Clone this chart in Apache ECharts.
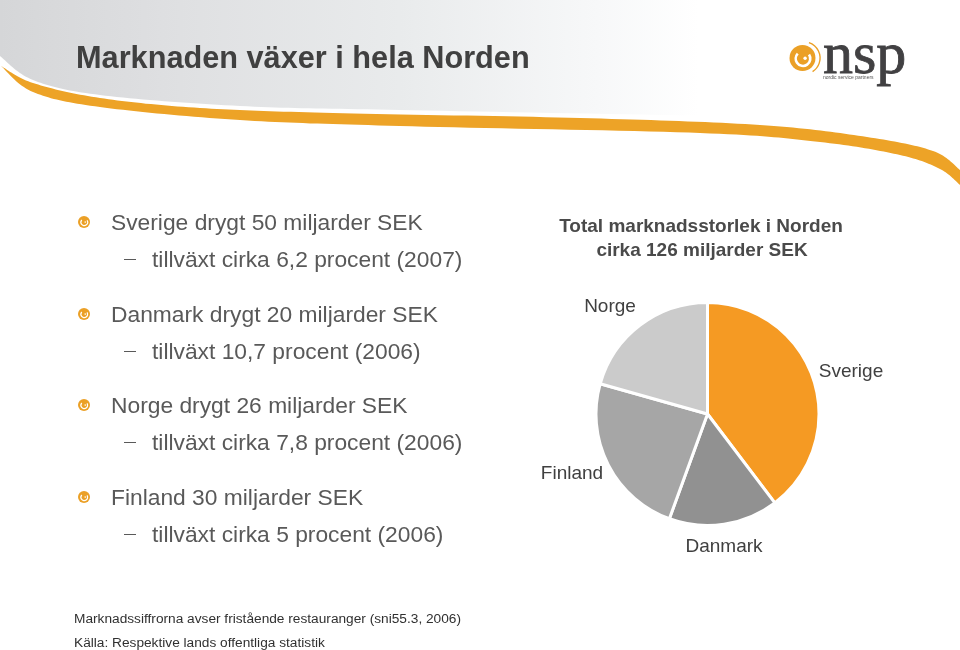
<!DOCTYPE html>
<html><head><meta charset="utf-8">
<style>html,body{margin:0;padding:0;background:#fff}#c{width:960px;height:650px}</style>
<script src="https://cdn.jsdelivr.net/npm/echarts@6/dist/echarts.min.js"></script>
</head><body><div id="c"></div>
<script>
const categories = ['Sverige','Danmark','Finland','Norge'];
const values = [50,20,30,26];
const colors = ['#F59A23','#919191','#A6A6A6','#CBCBCB'];
const labelAnchors = [[851,372],[724,547],[572,474],[610,307]];
const titleText = 'Marknaden växer i hela Norden';
const chartHeading = ['Total marknadsstorlek i Norden','cirka 126 miljarder SEK'];
const headLines = [['Sverige drygt 50 miljarder SEK',222],['Danmark drygt 20 miljarder SEK',314],['Norge drygt 26 miljarder SEK',405],['Finland 30 miljarder SEK',497]];
const subLines = [['tillväxt cirka 6,2 procent (2007)',259],['tillväxt 10,7 procent (2006)',351],['tillväxt cirka 7,8 procent (2006)',442],['tillväxt cirka 5 procent (2006)',534]];
const footLines = [['Marknadssiffrorna avser fristående restauranger (sni55.3, 2006)',618],['Källa: Respektive lands offentliga statistik',642]];

const FONT='"Liberation Sans",Arial,sans-serif';
const txt=(t,x,y,size,color,extra)=>({type:'text',z:5,style:Object.assign({text:t,x:x,y:y,font:`${size}px ${FONT}`,fill:color,textAlign:'left',textVerticalAlign:'middle'},extra||{})});
// smooth decorative curve (Catmull-Rom) through sampled outline points
const curve=(p)=>{
  const out=[];
  for(let i=0;i<p.length-1;i++){
    const a=p[Math.max(i-1,0)],b=p[i],c=p[i+1],d=p[Math.min(i+2,p.length-1)];
    for(let k=0;k<20;k++){const t=k/20,t2=t*t,t3=t2*t;
      out.push([0,1].map(j=>0.5*(2*b[j]+(c[j]-a[j])*t+(2*a[j]-5*b[j]+4*c[j]-d[j])*t2+(3*b[j]-a[j]-3*c[j]+d[j])*t3)));}
  }
  out.push(p[p.length-1]);
  return out;
};
const bandTop=[[1,66],[33,83],[100,98],[200,108],[333,113],[580,118],[760,125],[867,137],[933,151],[960,170]];
const bandBottom=[[960,185],[940,169],[900,155],[820,142],[700,133],[400,126],[240,120],[100,107],[33,92],[1,66]];
const greyEdge=[[720,116],[400,110],[240,106],[100,95],[33,80],[0,56]];
const g=[];
g.push({type:'polygon',z:1,shape:{points:[[0,0],[720,0]].concat(curve(greyEdge))},
  style:{fill:{type:'linear',x:0,y:0,x2:1,y2:0,colorStops:[{offset:0,color:'#d5d6d8'},{offset:0.25,color:'#dfe0e2'},{offset:0.555,color:'#e9ebec'},{offset:0.83,color:'#f7f8f9'},{offset:0.97,color:'#ffffff'},{offset:1,color:'#ffffff'}]}}});
g.push({type:'polygon',z:2,shape:{points:curve(bandTop).concat(curve(bandBottom))},style:{fill:'#EDA327'}});
const swirl=(x,y,r,outer)=>{
  g.push({type:'circle',z:4,shape:{cx:x,cy:y,r:r},style:{fill:'#EBA026'}});
  g.push({type:'arc',z:4,shape:{cx:x+r*0.04,cy:y+r*0.05,r:r*0.56,startAngle:-0.6,endAngle:3.9,clockwise:true},style:{stroke:'#ffffff',lineWidth:r*0.2,fill:null}});
  g.push({type:'circle',z:4,shape:{cx:x+r*0.2,cy:y+r*0.02,r:r*0.13},style:{fill:'#ffffff'}});
  if(outer){
    g.push({type:'arc',z:4,shape:{cx:x+r*0.1,cy:y,r:r*1.25,startAngle:-1.25,endAngle:1.0},style:{stroke:'#EBA026',lineWidth:1.4,fill:null}});
  }
};
swirl(802.5,58,13,true);
g.push(txt('nsp',823,57,60,'#414042',{font:`60px "Liberation Serif",serif`,stroke:'#414042',lineWidth:0.8}));
g.push(txt('nordic service partners',823,78,5,'#555555'));
g.push(txt(titleText,76,60,30.7,'#404040',{font:`bold 30.7px ${FONT}`}));
headLines.forEach(([t,y])=>{swirl(84,y,6,false);g.push(txt(t,111,y+2,22.8,'#595959'));});
subLines.forEach(([t,y])=>{
  g.push({type:'rect',z:4,shape:{x:124,y:y,width:12,height:1},style:{fill:'#595959'}});
  g.push(txt(t,152,y+2,22.8,'#595959'));
});
footLines.forEach(([t,y])=>g.push(txt(t,74,y+1,13.7,'#303030')));
chartHeading.forEach((t,i)=>g.push(txt(t,i?702:701,227+i*24,19,'#4a4a4a',{font:`bold 19px ${FONT}`,textAlign:'center'})));

const chart=echarts.init(document.getElementById('c'),null,{renderer:'canvas'});
chart.setOption({
  animation:false,
  backgroundColor:'#ffffff',
  color:colors,
  graphic:{elements:g},
  series:[{
    type:'pie',center:[707.5,414],radius:[0,111.5],startAngle:90,clockwise:true,
    data:categories.map((n,i)=>({name:n,value:values[i]})),
    itemStyle:{borderColor:'#ffffff',borderWidth:3},
    label:{show:true,position:'outside',formatter:'{b}',fontFamily:FONT,fontSize:19,color:'#404040',align:'center',verticalAlign:'middle'},
    labelLine:{show:false},
    labelLayout:p=>({x:labelAnchors[p.dataIndex][0],y:labelAnchors[p.dataIndex][1],align:'center',verticalAlign:'middle'})
  }]
});
</script></body></html>
